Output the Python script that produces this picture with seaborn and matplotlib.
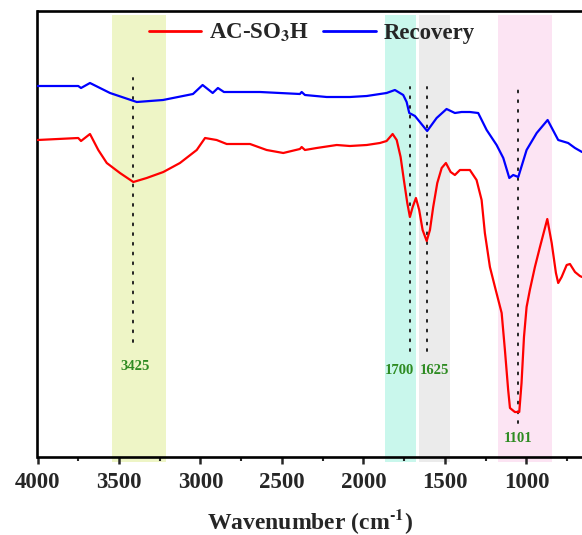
import numpy as np
import pandas as pd
import matplotlib
matplotlib.use("Agg")
import matplotlib.pyplot as plt
import seaborn as sns

# ---------------- data ----------------
wn_recovery = [4000, 3750, 3733, 3678, 3555, 3391, 3230, 3046, 2987, 2925, 2893, 2856,
               2635, 2390, 2379, 2359, 2226, 2083, 1980, 1858, 1807, 1756, 1735, 1719,
               1684, 1609, 1551, 1490, 1439, 1398, 1347, 1296, 1244, 1183, 1142, 1105,
               1081, 1050, 999, 937, 870, 805, 744, 702, 659]
t_recovery = [371, 371, 369, 374, 364, 355, 357, 363, 372, 364, 369, 365,
              365, 363, 365, 362, 360, 360, 361, 364, 367, 362, 355, 344,
              341, 326, 339, 348, 344, 345, 345, 344, 327, 312, 299, 279,
              282, 280, 307, 324, 337, 317, 314, 309, 305]

wn_acso3h = [4000, 3750, 3733, 3678, 3627, 3575, 3494, 3412, 3330, 3228, 3126, 3023,
             2972, 2901, 2839, 2696, 2594, 2492, 2390, 2379, 2359, 2287, 2164, 2083,
             1980, 1899, 1858, 1821, 1796, 1772, 1752, 1731, 1715, 1698, 1678, 1658,
             1637, 1612, 1592, 1572, 1547, 1520, 1494, 1465, 1439, 1408, 1347, 1306,
             1275, 1255, 1224, 1193, 1152, 1132, 1112, 1101, 1071, 1044, 1030, 1015,
             999, 979, 948, 917, 872, 845, 819, 805, 784, 753, 733, 702, 672, 659]
t_acso3h = [317, 319, 316, 323, 307, 294, 284, 275, 279, 285, 294, 307,
            319, 317, 313, 313, 307, 304, 308, 310, 307, 309, 312, 311,
            312, 314, 316, 323, 317, 300, 277, 254, 240, 250, 259, 247,
            227, 216, 227, 250, 274, 289, 294, 285, 282, 287, 287, 277,
            257, 224, 190, 170, 144, 107, 67, 49, 45, 45, 74, 120,
            150, 167, 190, 210, 238, 214, 184, 174, 180, 192, 193, 185, 181, 180]

series_names = ["AC-SO$_\\mathbf{3}$H", "Recovery"]
series_colors = ["#FF0000", "#0000FF"]

# shaded bands (wavenumber ranges) and their colours
band_ranges = [(3543, 3212), (1866, 1676), (1660, 1471), (1173, 842)]
band_colors = ["#EEF5C6", "#C9F7EC", "#EBEBEB", "#FCE4F3"]

# dotted peak markers
peak_pos = [3411, 1715, 1610, 1050]
peak_top = [379, 370, 370, 370]
peak_bottom = [115, 106, 106, 34]
peak_labels = ["3425", "1700", "1625", "1101"]
peak_label_x = [3400, 1782, 1567, 1052]
peak_label_y = [90, 86, 86, 18]

x_ticks = [4000, 3500, 3000, 2500, 2000, 1500, 1000]

# ---------------- plotting ----------------
sns.set_theme(style="white")
plt.rcParams["font.family"] = ["Liberation Serif", "DejaVu Serif"]
plt.rcParams["font.weight"] = "bold"
plt.rcParams["mathtext.fontset"] = "stix"

df = pd.concat([
    pd.DataFrame({"wn": wn_acso3h, "T": t_acso3h, "sample": series_names[0]}),
    pd.DataFrame({"wn": wn_recovery, "T": t_recovery, "sample": series_names[1]}),
])

fig = plt.figure(figsize=(5.82, 5.35), dpi=100)
ax = fig.add_axes([37.5 / 582, 78 / 535, 1 - 37.5 / 582, 446 / 535])

for (a, b), c in zip(band_ranges, band_colors):
    ax.axvspan(a, b, ymin=-0.011, ymax=0.991, color=c, lw=0, zorder=0, clip_on=False)

for x, t, b in zip(peak_pos, peak_top, peak_bottom):
    ax.plot([x, x], [b, t], color="#222222", lw=1.4, linestyle=(0, (1, 4)),
            dash_capstyle="round", zorder=1)

sns.lineplot(data=df, x="wn", y="T", hue="sample", palette=series_colors,
             estimator=None, sort=False, lw=1.6, ax=ax, zorder=3)

for lab, x, y in zip(peak_labels, peak_label_x, peak_label_y):
    ax.text(x, y, lab, color="#2E8B22", fontsize=10.5, fontweight="bold",
            ha="center", va="center")

ax.set_xlim(4000, 659)
ax.set_ylim(0, 446)
ax.set_xticks(x_ticks)
ax.set_xticklabels([str(v) for v in x_ticks])
ax.set_xticks(np.arange(3750, 659, -500), minor=True)
ax.set_yticks([])
ax.tick_params(axis="x", which="major", direction="out", length=5, width=1.8,
               labelsize=16.5, pad=6, bottom=True)
ax.tick_params(axis="x", which="minor", direction="out", length=3, width=1.5, bottom=True)
for lbl in ax.get_xticklabels():
    lbl.set_fontweight("bold")

ax.set_xlabel("Wavenumber (cm$^{\\text{-}\\mathbf{1}}$)", fontsize=17,
              fontweight="bold", labelpad=10)
ax.set_ylabel("")

for s in ["left", "bottom", "top"]:
    ax.spines[s].set_linewidth(1.9)
    ax.spines[s].set_color("black")
ax.spines["right"].set_visible(False)

handles, labels = ax.get_legend_handles_labels()
leg = ax.legend(handles, labels, loc="center", bbox_to_anchor=(0.504, 0.951),
                ncol=2, frameon=False, fontsize=16.5, handlelength=2.3,
                handletextpad=0.35, columnspacing=0.6, borderpad=0)
for t in leg.get_texts():
    t.set_fontweight("bold")
for h in leg.get_lines():
    h.set_linewidth(2.0)

fig.savefig("out.png", dpi=100)
